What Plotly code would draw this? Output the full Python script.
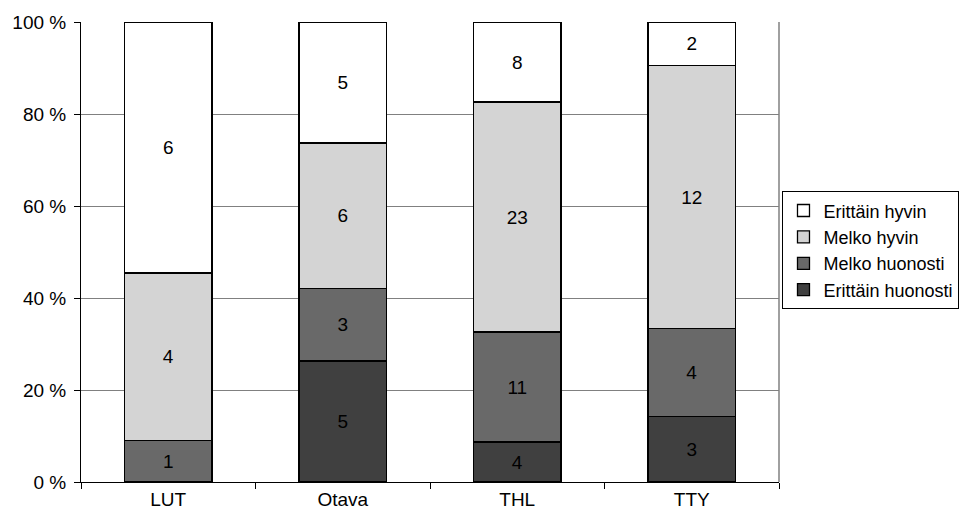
import plotly.graph_objects as go

categories = ["LUT", "Otava", "THL", "TTY"]
series_names = ["Erittäin huonosti", "Melko huonosti", "Melko hyvin", "Erittäin hyvin"]
erittain_huonosti = [0, 5, 4, 3]
melko_huonosti = [1, 3, 11, 4]
melko_hyvin = [4, 6, 23, 12]
erittain_hyvin = [6, 5, 8, 2]
y_ticks = [0, 20, 40, 60, 80, 100]
y_tick_labels = [f"{v} %" for v in y_ticks]

series_values = [erittain_huonosti, melko_huonosti, melko_hyvin, erittain_hyvin]
colors = ["#404040", "#696969", "#d4d4d4", "#ffffff"]

FONT = "Liberation Sans, Arial, sans-serif"
FS = 19

fig = go.Figure()
for name, vals, col in zip(series_names, series_values, colors):
    fig.add_trace(go.Bar(
        x=categories, y=vals, name=name,
        marker=dict(color=col, line=dict(color="black", width=1.3)),
        text=[str(v) if v > 0 else "" for v in vals],
        textposition="inside", insidetextanchor="middle",
        textfont=dict(color="black", size=FS, family=FONT),
        constraintext="none", hoverinfo="skip",
    ))

fig.update_layout(
    barmode="stack", barnorm="percent", bargap=0.5,
    width=962, height=517,
    margin=dict(l=81, r=183, t=22, b=35, autoexpand=False),
    paper_bgcolor="white", plot_bgcolor="white",
    font=dict(family=FONT, size=FS, color="black"),
    showlegend=True,
    legend=dict(
        x=1.005, y=0.632, xanchor="left", yanchor="top",
        traceorder="reversed",
        bordercolor="black", borderwidth=1, bgcolor="white",
        font=dict(size=18, family=FONT, color="black"),
        itemwidth=30,
    ),
    xaxis=dict(
        showline=True, linecolor="black", linewidth=1,
        ticks="outside", tickson="boundaries", ticklen=6, tickcolor="black",
        showgrid=False, fixedrange=True,
    ),
    yaxis=dict(
        range=[0, 100], tickmode="array", tickvals=y_ticks, ticktext=y_tick_labels,
        showline=True, linecolor="black", linewidth=1,
        ticks="outside", ticklen=6, tickcolor="black", ticklabelstandoff=4,
        showgrid=True, gridcolor="#808080", gridwidth=1,
        zeroline=False, fixedrange=True,
    ),
    shapes=[dict(type="line", xref="paper", yref="paper", x0=1, x1=1, y0=0, y1=1,
                 line=dict(color="#808080", width=1.5))],
)

fig.write_html(
    "out.html",
    config={"displayModeBar": False},
    post_script="document.body.style.margin='0';document.body.style.overflow='hidden';",
)
